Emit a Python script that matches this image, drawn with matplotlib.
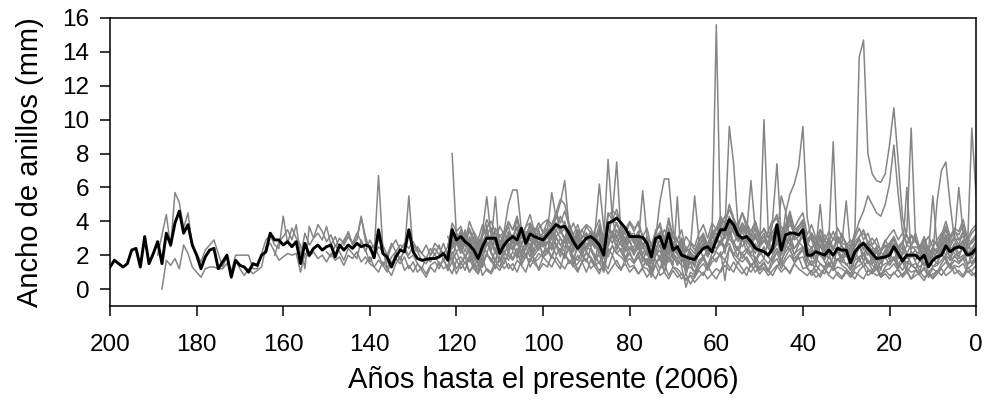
import numpy as np
import matplotlib
matplotlib.use("Agg")
import matplotlib.pyplot as plt

plt.rcParams['font.family'] = ['Liberation Sans', 'DejaVu Sans']

# Mean ring-width chronology, years before present 200 -> 0
mean_width = [
    1.3, 1.7, 1.5, 1.3, 1.5, 2.3, 2.4, 1.3, 3.1, 1.5,
    2.1, 2.8, 1.5, 3.3, 2.6, 3.9, 4.6, 3.3, 3.8, 2.6,
    2.0, 1.2, 1.9, 2.3, 2.4, 1.2, 1.6, 2.0, 0.7, 1.7,
    1.4, 1.3, 1.0, 1.5, 1.4, 2.0, 2.2, 3.3, 2.9, 2.9,
    2.6, 2.8, 2.5, 2.8, 1.5, 2.7, 2.0, 2.4, 2.6,
    2.3, 2.5, 2.6, 1.9, 2.6, 2.3, 2.6, 2.4, 2.7, 2.5,
    2.6, 2.5, 1.85, 3.5, 2.1, 1.9, 1.3, 1.9, 2.3, 2.2,
    3.5, 2.2, 1.8, 1.7, 1.75, 1.8, 1.8, 1.9, 2.1, 1.7,
    3.5, 2.9, 3.1, 2.8, 2.6, 2.3, 1.8, 2.5, 3.0, 3.0,
    3.0, 2.1, 2.6, 2.9, 3.1, 2.9, 3.6, 2.7, 3.25, 3.1, 3.0,
    2.9, 3.2, 3.5, 3.8, 3.65, 3.7, 3.3, 2.8, 2.4, 2.7,
    3.0, 3.1, 2.9, 2.6, 2.0, 3.9, 4.0, 4.2, 3.9, 3.6,
    3.1, 3.1, 3.1, 3.05, 2.7, 1.9, 3.0, 3.1, 2.4, 3.3,
    2.3, 2.5, 2.0, 1.9, 1.8, 1.75, 2.1, 2.4, 2.5, 2.2,
    2.9, 3.5, 3.5, 4.1, 3.8, 3.2, 3.0, 3.1, 2.8, 2.4,
    2.3, 2.2, 2.0, 2.4, 3.8, 2.3, 3.2, 3.3, 3.3, 3.2,
    3.5, 2.0, 2.0, 2.2, 2.1, 2.0, 2.3, 2.0, 2.4, 2.3,
    2.3, 1.55, 2.2, 2.5, 2.7, 2.4, 2.1, 1.8, 1.85, 1.9,
    2.0, 2.5, 2.1, 1.65, 2.0, 2.0, 2.0, 1.75, 2.0, 1.3,
    1.7, 1.9, 2.0, 2.55, 2.2, 2.4, 2.5, 2.4, 2.0, 2.1, 2.4,
]

# Individual tree series; each runs from its first year down to 0
tree_starts = [189, 188, 162, 150, 146, 141,
               121, 122, 121, 122, 122, 121, 121, 120, 122, 121, 122, 121]

tree_01 = [2.0, 3.2, 4.4, 2.5, 5.7, 5.1, 3.6, 4.5, 2.5, 2.1,
           1.6, 2.3, 2.6, 2.9, 2.1, 1.3, 1.9, 1.0, 2.0, 2.0,
           2.0, 2.0, 1.2, 1.2, 2.1, 2.9, 3.2, 2.6, 2.4, 4.3,
           2.7, 3.6, 3.0, 2.6, 1.2, 3.7, 3.0, 3.3, 2.9, 3.7,
           2.6, 3.1, 2.4, 2.9, 3.3, 2.7, 3.0, 4.3, 2.8, 2.4,
           1.9, 2.5, 2.2, 1.6, 1.3, 2.2, 2.6, 2.4, 2.0, 2.6,
           2.2, 1.7, 1.5, 2.0, 2.4, 2.0, 2.7, 1.9, 3.6, 3.0,
           3.3, 2.6, 2.9, 2.2, 1.5, 2.8, 3.2, 3.6, 3.0, 2.2,
           2.8, 3.3, 3.1, 3.7, 2.6, 3.4, 3.2, 2.8, 3.0, 3.3,
           3.5, 3.2, 3.9, 3.4, 4.0, 3.1, 2.6, 2.4, 3.0, 3.3,
           3.0, 2.5, 2.8, 1.8, 3.6, 4.0, 3.9, 3.3, 3.0, 3.4,
           2.9, 3.2, 2.6, 2.4, 1.6, 2.8, 3.2, 2.1, 3.4, 2.5,
           2.3, 2.0, 1.7, 1.9, 1.6, 2.4, 2.6, 2.0, 2.8, 3.0,
           3.6, 3.3, 4.0, 3.4, 3.1, 2.9, 3.2, 2.7, 2.5, 2.1,
           2.4, 2.0, 2.6, 3.1, 2.3, 3.0, 3.4, 2.9, 3.1, 3.3,
           2.2, 1.9, 2.3, 2.0, 1.8, 2.5, 1.9, 2.4, 2.2, 2.1,
           1.6, 2.3, 2.6, 2.8, 2.3, 2.0, 1.7, 1.9, 2.0, 2.2,
           2.6, 2.0, 1.6, 2.1, 1.9, 2.0, 1.8, 2.1, 1.4, 1.7,
           1.9, 2.2, 2.6, 2.3, 2.5, 2.4, 2.6, 2.1, 2.2, 2.5]

tree_02 = [0.0, 1.7, 1.4, 1.8, 1.2, 2.6, 2.1, 1.3, 1.0,
           0.7, 1.2, 1.3, 1.3, 1.2, 1.2, 1.5, 1.1, 1.7, 1.2,
           0.8, 1.2, 0.9, 1.1, 1.3, 2.5, 2.7, 2.2, 1.7, 1.9,
           2.1, 2.0, 2.1, 1.0, 2.1, 1.9, 2.2, 1.8, 2.0, 1.6,
           2.1, 1.7, 1.9, 1.4, 2.0, 1.8, 2.2, 1.6, 1.9, 1.5,
           1.3, 1.7, 1.4, 1.0, 1.6, 1.8, 1.5, 1.9, 1.2, 1.6,
           1.0, 1.3, 0.9, 1.4, 1.6, 1.2, 1.8, 1.1, 2.2, 1.7,
           1.9, 1.5, 1.8, 1.2, 0.9, 1.6, 2.0, 1.8, 1.4, 1.1,
           1.6, 2.0, 1.7, 2.2, 1.5, 1.9, 2.3, 1.6, 1.8, 2.1,
           2.4, 1.9, 2.6, 2.2, 2.0, 1.7, 1.3, 1.5, 1.9, 2.1,
           1.8, 1.4, 1.6, 1.0, 2.2, 2.5, 2.1, 1.9, 1.6, 1.8,
           1.5, 1.9, 1.3, 1.2, 0.8, 1.5, 1.8, 1.0, 1.9, 1.3,
           1.2, 0.9, 0.6, 0.8, 0.7, 1.2, 1.5, 1.1, 1.6, 1.8,
           2.0, 1.7, 2.4, 2.1, 1.8, 1.6, 1.9, 1.4, 1.5, 1.1,
           1.3, 1.0, 1.5, 1.8, 1.2, 1.7, 2.0, 1.6, 1.8, 1.9,
           1.2, 1.0, 1.4, 1.1, 0.9, 1.5, 1.1, 1.3, 1.2, 1.0,
           0.7, 1.2, 1.4, 1.6, 1.2, 1.0, 0.8, 0.9, 1.1, 1.2,
           1.5, 1.1, 0.8, 1.2, 1.0, 1.1, 0.9, 1.2, 0.7, 0.9,
           1.0, 1.3, 1.6, 1.2, 1.4, 1.3, 1.5, 1.0, 1.1, 1.4]

tree_03 = [2.0, 2.8, 3.1,
           3.5, 2.9, 3.8, 1.9, 3.3, 2.6, 3.0, 3.8, 3.4, 2.8,
           3.2, 2.5, 3.0, 2.7, 3.4, 2.6, 2.9, 4.2, 3.1, 2.3,
           2.6, 2.0, 1.4, 1.8, 2.5, 2.9, 2.3, 2.7, 2.4, 2.8,
           2.3, 2.1, 2.6, 2.0, 2.7, 2.4, 2.1, 2.5, 3.9, 3.4,
           3.7, 2.9, 3.4, 2.8, 2.0, 3.1, 3.6, 4.0, 3.3, 2.6,
           3.2, 3.9, 3.5, 4.1, 3.0, 3.7, 3.9, 3.3, 3.6, 3.9,
           4.1, 3.8, 4.5, 3.9, 4.6, 3.7, 3.1, 2.9, 3.5, 3.8,
           3.6, 3.0, 3.2, 2.3, 4.3, 4.6, 4.4, 3.9, 3.5, 4.0,
           3.6, 3.8, 3.1, 2.9, 2.1, 3.5, 3.7, 2.8, 4.0, 3.0,
           2.8, 2.5, 2.2, 2.4, 2.1, 2.9, 3.1, 2.6, 3.3, 3.6,
           4.2, 3.9, 4.7, 4.1, 3.6, 3.4, 3.8, 3.2, 3.0, 2.7,
           2.9, 2.5, 3.1, 3.7, 2.8, 3.5, 4.0, 3.5, 3.7, 3.9,
           2.7, 2.4, 2.8, 2.5, 2.3, 3.0, 2.4, 2.9, 2.7, 2.6,
           2.0, 2.8, 3.1, 3.3, 2.8, 2.5, 2.2, 2.3, 2.5, 2.7,
           3.1, 2.5, 2.0, 2.6, 2.4, 2.5, 2.3, 2.6, 1.8, 2.2,
           2.4, 2.7, 3.1, 2.8, 3.0, 2.9, 3.1, 2.6, 2.7, 3.0]

tree_04 = [2.2,
           1.9, 2.6, 2.2, 1.7, 2.4, 2.1, 1.8, 2.9, 2.3, 1.6,
           2.1, 6.7, 2.4, 1.2, 1.9, 2.2, 1.7, 2.3, 1.8, 2.0,
           1.5, 1.2, 1.9, 1.6, 2.1, 1.4, 1.7, 1.3, 2.8, 2.2,
           2.5, 1.9, 2.3, 1.5, 1.1, 2.0, 2.6, 2.9, 2.2, 1.6,
           2.1, 2.6, 2.3, 2.8, 1.9, 2.5, 2.7, 2.0, 2.4, 2.6,
           2.8, 2.4, 3.0, 2.6, 2.9, 2.3, 1.9, 1.7, 2.2, 2.5,
           2.3, 1.8, 2.0, 1.3, 2.9, 3.2, 3.0, 2.6, 2.2, 2.5,
           2.1, 2.4, 1.9, 1.7, 1.1, 2.0, 2.3, 1.5, 2.5, 1.8,
           1.7, 1.4, 1.2, 1.3, 1.0, 1.7, 1.9, 1.4, 2.1, 2.3,
           2.7, 2.4, 3.0, 2.6, 2.3, 2.1, 2.4, 2.0, 1.9, 1.5,
           1.8, 1.5, 2.0, 2.4, 1.7, 2.2, 2.6, 2.1, 2.3, 2.5,
           1.6, 1.4, 1.8, 1.5, 1.3, 1.9, 1.5, 1.8, 1.6, 1.5,
           1.1, 1.7, 1.9, 2.1, 1.7, 1.4, 1.2, 1.3, 1.5, 1.6,
           1.9, 1.5, 1.1, 1.6, 1.4, 1.5, 1.3, 1.6, 1.0, 1.3,
           1.4, 1.7, 2.0, 1.7, 1.9, 1.8, 2.0, 1.5, 1.6, 1.9]

tree_05 = [2.6, 3.1, 2.7, 3.3, 2.8, 2.2, 2.9,
           2.4, 2.9, 2.6, 2.0, 2.7, 2.2, 1.8, 2.3, 5.5, 2.1,
           2.5, 2.1, 1.8, 2.4, 2.0, 2.6, 1.7, 2.2, 2.8, 3.3,
           2.6, 3.1, 2.4, 2.8, 2.2, 2.7, 2.1, 2.9, 3.4, 2.5,
           2.9, 2.4, 3.2, 2.8, 3.5, 2.6, 3.0, 2.7, 3.3, 2.8,
           3.0, 3.6, 3.1, 3.4, 2.9, 3.5, 2.7, 3.2, 2.8, 2.4,
           3.2, 2.7, 2.3, 3.0, 2.6, 3.4, 3.0, 3.6, 2.8, 3.3,
           2.8, 2.4, 3.1, 2.6, 2.2, 2.9, 2.5, 3.0, 2.3, 2.7,
           2.3, 1.9, 2.5, 2.1, 1.6, 2.3, 2.7, 2.0, 2.6, 3.0,
           2.7, 3.3, 3.0, 3.7, 2.9, 3.4, 2.8, 2.5, 3.1, 2.6,
           2.9, 2.4, 2.1, 2.7, 2.3, 3.0, 2.6, 3.2, 2.8, 2.5,
           2.2, 1.8, 2.4, 2.0, 1.7, 2.3, 1.9, 2.2, 1.6, 2.1,
           1.8, 2.3, 1.6, 2.1, 2.5, 1.9, 1.5, 2.2, 1.8, 2.1,
           1.7, 2.2, 1.9, 1.5, 2.0, 2.3, 1.8, 1.4, 1.9, 2.2,
           1.8, 2.4, 2.0, 2.5, 2.1, 1.9, 2.6, 2.2, 1.8, 2.3]

tree_06 = [1.5, 1.9,
           1.3, 1.0, 1.6, 1.2, 0.8, 1.5, 1.9, 1.1, 1.4, 1.0,
           1.5, 1.1, 0.7, 1.3, 1.0, 1.6, 1.2, 1.4, 0.9, 1.7,
           1.2, 1.6, 1.0, 1.5, 1.3, 1.8, 1.1, 0.9, 1.4, 1.7,
           1.2, 1.5, 1.1, 1.7, 1.4, 1.0, 1.8, 1.5, 1.2, 1.9,
           1.6, 1.3, 1.9, 1.5, 1.2, 1.7, 1.4, 1.0, 1.6, 1.8,
           1.2, 1.5, 1.1, 1.4, 0.9, 1.3, 1.7, 1.2, 1.5, 1.0,
           1.3, 0.9, 1.2, 0.7, 1.1, 1.4, 0.8, 1.0, 0.6, 1.1,
           0.7, 0.9, 0.5, 0.8, 0.4, 0.7, 1.0, 0.6, 0.9, 1.2,
           1.0, 1.4, 1.1, 1.6, 1.2, 0.9, 1.3, 1.0, 1.4, 0.9,
           1.2, 0.8, 1.1, 1.4, 1.0, 1.3, 0.9, 1.5, 1.2, 1.0,
           0.8, 1.1, 0.7, 0.9, 1.2, 0.8, 0.6, 1.0, 0.7, 1.1,
           0.7, 1.0, 0.8, 0.6, 1.1, 0.9, 1.2, 0.7, 0.9, 0.6,
           1.0, 0.7, 0.9, 1.1, 0.6, 0.8, 1.0, 0.7, 0.9, 0.6,
           0.9, 1.2, 0.8, 1.0, 1.3, 0.9, 0.7, 1.1, 0.8, 1.0]

tree_07 = [8.0, 3.1,
           2.4, 3.5, 2.0, 1.6, 2.9, 1.3, 3.8, 2.2, 1.7, 2.6,
           3.4, 2.1, 2.9, 1.8, 3.3, 2.5, 1.9, 3.6, 2.4, 2.8,
           2.2, 3.4, 2.6, 1.9, 3.1, 2.3, 1.5, 2.8, 2.0, 3.3,
           2.5, 1.7, 3.0, 1.2, 2.6, 3.4, 2.3, 2.9, 1.8, 2.5,
           2.0, 2.8, 1.6, 2.4, 0.9, 2.2, 3.0, 1.4, 2.7, 1.9,
           1.5, 2.2, 0.8, 1.9, 1.3, 2.6, 1.8, 2.4, 3.0, 15.6,
           3.2, 2.1, 3.8, 2.5, 1.9, 3.0, 2.2, 2.7, 1.6, 2.3,
           1.8, 2.9, 2.1, 3.3, 1.6, 2.4, 3.1, 2.0, 2.6, 3.5,
           1.7, 2.3, 1.4, 2.6, 1.9, 2.1, 1.3, 2.5, 1.8, 2.2,
           1.2, 2.0, 2.7, 1.6, 2.4, 1.5, 1.9, 1.1, 2.3, 1.7,
           2.5, 1.4, 1.9, 1.2, 2.2, 1.6, 1.0, 2.0, 1.3, 1.8,
           1.5, 2.1, 2.8, 1.7, 2.4, 1.9, 2.6, 1.4, 2.0, 2.3]

tree_08 = [2.6, 3.3, 2.8,
           3.0, 2.5, 3.6, 2.9, 2.2, 3.4, 5.45, 3.1, 2.6, 2.3,
           3.1, 3.7, 2.8, 4.2, 3.3, 2.7, 3.9, 3.2, 2.5, 3.4,
           3.6, 2.9, 4.4, 3.5, 3.0, 3.8, 2.6, 3.3, 2.4, 3.1,
           2.8, 3.5, 4.1, 2.9, 7.65, 4.2, 3.0, 3.6, 2.7, 3.2,
           2.9, 3.4, 2.5, 3.1, 1.8, 2.7, 3.3, 2.2, 3.5, 2.6,
           2.4, 2.9, 1.6, 2.2, 1.9, 2.8, 3.2, 2.5, 3.4, 3.0,
           4.1, 3.5, 9.6, 7.4, 3.8, 4.5, 3.6, 3.1, 4.0, 2.9,
           3.3, 2.6, 3.9, 4.2, 3.0, 3.6, 4.4, 3.2, 3.7, 4.1,
           2.8, 3.2, 2.5, 3.5, 2.9, 2.4, 3.0, 2.7, 3.3, 2.6,
           2.3, 3.4, 13.7, 14.7, 8.0, 6.8, 6.4, 6.3, 6.8, 8.5,
           10.7, 7.6, 4.2, 3.1, 2.6, 3.3, 2.4, 2.9, 2.0, 2.5,
           2.2, 2.8, 3.5, 2.7, 3.1, 2.6, 3.4, 2.3, 2.9, 3.2]

tree_09 = [3.6, 2.7,
           2.1, 3.0, 2.4, 1.8, 2.7, 2.2, 3.2, 2.8, 5.45, 2.0,
           2.6, 3.3, 2.4, 3.0, 2.2, 2.8, 3.5, 2.7, 2.3, 3.1,
           3.4, 5.7, 4.2, 5.1, 6.4, 3.6, 2.9, 3.5, 2.4, 3.0,
           2.7, 3.3, 2.2, 2.6, 3.8, 3.1, 2.5, 3.4, 2.8, 2.3,
           2.5, 3.1, 2.0, 2.7, 1.5, 2.4, 2.9, 1.9, 3.2, 2.3,
           2.1, 2.6, 1.3, 1.9, 1.7, 2.5, 2.9, 2.2, 3.1, 2.7,
           3.4, 3.0, 3.9, 3.3, 2.8, 3.6, 3.1, 2.6, 3.2, 2.4,
           10.0, 3.4, 2.9, 3.6, 2.5, 4.5, 5.6, 6.2, 7.2, 9.6,
           4.2, 2.9, 2.2, 2.6, 2.0, 2.8, 2.3, 3.0, 2.5, 2.1,
           1.8, 2.5, 2.9, 2.3, 2.7, 2.0, 2.4, 1.7, 2.2, 2.6,
           2.9, 2.3, 2.7, 3.4, 9.5, 3.0, 2.1, 2.5, 1.6, 2.2,
           1.9, 2.4, 3.0, 2.2, 2.7, 2.5, 2.9, 2.0, 2.4, 2.8]

tree_10 = [2.2, 1.7, 2.9,
           2.4, 1.9, 2.6, 2.0, 1.4, 2.3, 2.8, 2.1, 1.6, 2.5,
           2.0, 2.7, 2.3, 2.9, 1.8, 2.4, 3.0, 2.2, 2.6, 2.1,
           2.8, 2.3, 3.1, 2.6, 2.2, 2.9, 1.8, 2.4, 1.9, 2.7,
           2.5, 3.4, 6.2, 3.6, 2.9, 4.4, 7.5, 3.2, 2.6, 2.8,
           2.2, 2.7, 1.7, 2.3, 1.2, 2.0, 2.6, 1.6, 2.8, 2.1,
           1.8, 2.3, 1.0, 1.6, 1.4, 2.2, 2.7, 1.9, 2.6, 2.4,
           2.9, 2.5, 3.3, 2.8, 2.3, 3.1, 2.6, 2.1, 2.7, 2.0,
           2.3, 1.9, 2.6, 3.0, 2.1, 2.7, 3.2, 2.4, 2.8, 3.1,
           2.0, 2.5, 1.8, 3.1, 2.4, 3.0, 8.7, 2.2, 1.9, 2.6,
           1.6, 2.2, 2.6, 2.0, 2.5, 1.8, 2.2, 1.5, 2.0, 2.4,
           2.7, 2.1, 2.5, 1.8, 2.2, 2.0, 1.7, 2.3, 1.5, 2.0,
           5.2, 7.0, 7.5, 5.0, 2.9, 2.4, 2.8, 2.0, 2.3, 2.7]

tree_11 = [1.9, 2.5, 3.3,
           2.8, 2.2, 3.1, 2.5, 1.9, 2.6, 3.3, 2.7, 2.1, 2.9,
           2.4, 3.1, 2.7, 3.3, 2.1, 2.8, 3.4, 2.6, 3.0, 2.5,
           3.2, 2.6, 3.5, 3.0, 2.7, 3.3, 2.3, 2.9, 2.2, 3.1,
           2.8, 2.4, 3.6, 2.1, 3.2, 2.7, 3.5, 2.9, 2.4, 3.1,
           2.7, 3.3, 2.4, 2.9, 2.2, 3.0, 5.2, 6.5, 6.5, 3.6,
           2.3, 2.8, 1.5, 2.1, 1.8, 2.6, 3.0, 2.3, 3.2, 2.9,
           3.6, 3.1, 4.0, 3.4, 2.9, 3.7, 3.2, 2.7, 3.3, 2.5,
           2.8, 3.4, 4.1, 7.4, 3.1, 3.6, 4.3, 3.0, 3.5, 3.8,
           2.6, 3.1, 2.4, 2.9, 2.2, 2.7, 2.3, 3.0, 2.5, 2.2,
           1.9, 2.6, 3.0, 2.4, 2.8, 2.1, 2.5, 1.8, 2.3, 2.7,
           3.0, 2.4, 2.8, 2.1, 2.6, 2.3, 1.9, 2.5, 1.7, 2.4,
           2.1, 2.6, 3.2, 2.5, 3.0, 6.0, 3.3, 2.4, 9.5, 5.5]

tree_12 = [3.1, 2.6,
           3.5, 3.0, 2.7, 3.4, 2.9, 3.8, 3.2, 2.8, 3.6, 3.1,
           3.4, 5.0, 5.85, 5.85, 3.5, 3.1, 3.8, 3.3, 3.9, 3.4,
           3.2, 3.8, 3.4, 4.3, 3.7, 3.3, 3.9, 3.2, 3.5, 2.9,
           3.4, 2.9, 3.5, 3.0, 3.7, 3.3, 3.9, 3.1, 3.5, 3.2,
           3.3, 2.8, 5.8, 3.1, 2.6, 3.4, 2.9, 3.5, 3.0, 3.4,
           2.9, 2.4, 3.1, 2.7, 2.3, 2.8, 3.2, 2.6, 3.1, 3.5,
           3.8, 4.3, 3.7, 4.1, 3.4, 3.9, 3.3, 6.4, 3.5, 3.1,
           3.6, 3.1, 3.4, 3.0, 3.7, 3.3, 3.8, 3.4, 3.1, 3.7,
           2.8, 3.3, 2.9, 2.5, 3.2, 2.8, 3.4, 2.7, 3.1, 2.6,
           2.9, 2.5, 3.1, 3.5, 2.7, 3.0, 2.6, 2.3, 2.9, 2.4,
           3.0, 2.5, 2.8, 3.2, 2.6, 2.9, 2.4, 2.7, 3.1, 2.5,
           2.9, 3.3, 2.8, 3.1, 3.5, 2.9, 3.4, 3.0, 2.7, 3.2]

tree_13 = [1.8, 1.2,
           1.6, 1.1, 2.0, 1.4, 0.9, 1.5, 2.1, 1.7, 1.2, 1.9,
           1.5, 2.2, 1.8, 2.4, 1.4, 2.0, 2.6, 1.7, 2.1, 1.9,
           2.3, 1.8, 2.7, 2.2, 1.9, 2.5, 1.4, 2.0, 1.6, 2.2,
           1.9, 1.5, 2.3, 1.1, 2.4, 2.0, 2.7, 2.2, 1.7, 2.1,
           1.6, 2.1, 1.3, 1.8, 0.7, 1.5, 2.0, 1.0, 2.2, 1.4,
           5.45, 1.3, 0.1, 1.0, 0.8, 1.4, 1.8, 1.2, 1.9, 1.6,
           2.2, 0.5, 2.5, 1.9, 1.5, 2.1, 1.7, 1.3, 1.8, 1.2,
           1.5, 1.1, 1.8, 2.2, 1.4, 1.9, 2.4, 1.6, 2.0, 2.3,
           1.3, 1.7, 1.0, 1.5, 1.2, 1.6, 1.1, 1.8, 1.4, 1.2,
           0.9, 1.4, 1.8, 1.3, 1.7, 1.1, 1.5, 0.8, 1.3, 1.6,
           1.8, 1.2, 1.6, 1.0, 1.4, 1.2, 0.9, 1.3, 0.8, 1.2,
           1.0, 1.5, 1.9, 1.3, 1.7, 1.5, 1.8, 1.2, 1.4, 1.7]

tree_14 = [2.9,
           3.4, 2.8, 4.0, 3.3, 2.6, 3.2, 4.1, 3.5, 2.9, 3.7,
           3.2, 4.0, 3.5, 4.3, 3.0, 3.7, 4.4, 3.4, 3.9, 3.3,
           4.0, 3.5, 4.5, 5.3, 5.0, 3.9, 3.2, 3.8, 3.0, 3.7,
           3.3, 2.9, 3.8, 2.7, 4.5, 4.1, 4.7, 3.8, 3.2, 3.9,
           3.4, 4.0, 3.1, 3.6, 2.5, 3.3, 3.9, 2.9, 4.2, 3.1,
           2.9, 3.5, 2.2, 2.8, 2.5, 3.3, 3.8, 3.0, 3.9, 3.5,
           4.3, 3.8, 5.0, 4.2, 3.6, 4.5, 3.9, 3.4, 4.0, 3.2,
           3.5, 3.0, 3.9, 4.4, 3.3, 3.8, 4.6, 3.6, 4.1, 4.5,
           3.2, 3.8, 3.0, 3.5, 2.8, 3.4, 2.9, 3.6, 3.1, 2.7,
           2.5, 3.2, 4.0, 4.6, 5.5, 5.0, 4.5, 4.3, 5.0, 6.2,
           8.5, 5.6, 3.4, 2.7, 3.2, 2.9, 2.5, 3.1, 2.3, 2.9,
           2.6, 3.2, 4.0, 3.1, 3.6, 3.4, 4.1, 3.0, 3.5, 3.8]

tree_15 = [1.1, 1.6, 0.9,
           1.5, 1.9, 1.0, 1.4, 1.8, 0.8, 1.2, 1.0, 1.7, 1.3,
           1.9, 1.2, 1.5, 1.0, 1.7, 2.1, 1.3, 1.8, 1.1, 1.5,
           1.3, 2.0, 1.6, 1.2, 2.2, 1.5, 1.9, 1.1, 1.6, 1.0,
           1.7, 1.3, 0.9, 1.6, 1.2, 2.0, 1.4, 1.1, 1.8, 1.3,
           1.4, 0.9, 1.3, 1.7, 1.0, 0.6, 1.2, 1.5, 0.8, 1.3,
           1.0, 0.6, 0.9, 0.3, 0.7, 1.1, 0.8, 1.4, 0.9, 0.6,
           1.1, 1.7, 1.3, 1.0, 1.6, 1.2, 0.8, 1.5, 1.0, 1.3,
           1.6, 1.1, 0.8, 1.3, 1.7, 1.2, 1.0, 1.5, 1.9, 1.2,
           1.3, 0.8, 1.1, 0.7, 1.2, 0.9, 1.4, 0.8, 0.6, 1.0,
           0.9, 0.6, 1.1, 1.4, 0.8, 1.0, 1.3, 0.7, 1.1, 0.8,
           0.9, 1.2, 0.7, 1.0, 0.6, 1.1, 0.8, 0.5, 1.0, 0.7,
           1.1, 0.8, 1.2, 1.5, 0.9, 1.1, 0.8, 1.3, 1.0, 0.7]

tree_16 = [2.4, 2.9,
           2.2, 2.8, 2.5, 3.1, 2.3, 2.0, 2.7, 2.3, 3.0, 2.4,
           2.8, 2.2, 3.0, 2.6, 3.4, 2.7, 2.3, 3.0, 3.5, 2.5,
           2.7, 3.3, 2.5, 3.0, 2.4, 3.2, 2.8, 3.5, 2.6, 2.2,
           3.0, 2.6, 2.1, 2.9, 2.5, 3.2, 2.8, 3.1, 2.3, 2.9,
           2.2, 2.9, 2.5, 2.0, 2.7, 2.3, 1.7, 2.6, 2.1, 2.8,
           2.0, 2.5, 1.7, 2.2, 1.4, 2.1, 2.7, 1.9, 2.4, 2.9,
           2.6, 3.1, 3.4, 2.7, 3.2, 2.5, 2.9, 2.6, 2.1, 2.8,
           3.1, 2.5, 2.2, 2.9, 5.5, 4.6, 2.8, 2.4, 2.7, 3.1,
           2.5, 2.0, 2.4, 5.0, 2.2, 1.8, 2.5, 2.3, 2.6, 1.9,
           2.3, 1.8, 2.5, 2.7, 2.0, 2.4, 1.7, 2.2, 2.6, 1.9,
           2.4, 1.8, 2.2, 6.0, 2.1, 1.7, 2.3, 1.9, 2.5, 1.8,
           2.2, 2.8, 2.3, 1.9, 2.6, 2.1, 2.5, 3.0, 2.0, 2.4]

tree_17 = [3.1, 2.4, 3.0,
           2.7, 3.3, 2.5, 2.1, 3.0, 2.6, 3.4, 2.8, 2.3, 3.2,
           2.7, 3.4, 3.0, 3.6, 2.6, 3.1, 3.7, 2.9, 3.3, 2.8,
           3.5, 3.0, 3.9, 3.3, 3.6, 2.9, 2.4, 3.1, 2.5, 3.3,
           3.0, 2.6, 3.4, 2.0, 3.6, 3.2, 3.9, 3.3, 2.8, 3.4,
           2.8, 3.4, 2.6, 3.0, 1.9, 2.9, 3.4, 2.3, 3.6, 2.7,
           2.5, 3.0, 1.8, 2.4, 5.5, 2.9, 3.3, 2.6, 3.5, 3.2,
           3.8, 3.3, 4.3, 3.6, 3.2, 3.9, 3.5, 2.9, 3.6, 2.8,
           3.1, 2.6, 3.4, 3.8, 2.9, 3.5, 4.1, 3.2, 3.7, 4.0,
           2.9, 3.3, 2.6, 3.2, 2.5, 3.0, 2.4, 3.1, 2.7, 5.2,
           2.3, 3.0, 3.6, 2.9, 3.3, 2.6, 3.0, 2.2, 2.8, 3.2,
           3.5, 2.9, 3.3, 2.6, 3.1, 2.8, 2.4, 3.0, 2.2, 5.5,
           2.5, 3.0, 3.7, 2.9, 3.4, 3.2, 3.8, 2.8, 3.3, 3.6]

tree_18 = [1.6, 2.2,
           1.5, 2.0, 1.6, 2.4, 1.9, 1.3, 2.1, 1.6, 2.3, 1.7,
           2.3, 1.7, 2.2, 1.9, 2.6, 2.0, 1.6, 2.4, 2.8, 1.9,
           2.1, 2.7, 2.0, 2.4, 1.8, 2.5, 2.2, 2.9, 2.0, 1.6,
           2.4, 2.0, 1.5, 2.3, 1.9, 2.6, 2.1, 2.4, 1.7, 2.2,
           1.6, 2.2, 1.9, 1.4, 2.1, 1.7, 1.2, 2.0, 1.6, 2.2,
           1.4, 1.8, 1.2, 1.6, 0.9, 1.5, 2.0, 1.3, 1.8, 2.2,
           1.9, 2.4, 2.7, 2.0, 2.5, 1.8, 2.2, 1.9, 1.5, 2.1,
           2.5, 1.9, 1.6, 2.2, 2.0, 2.6, 2.3, 1.8, 2.1, 2.4,
           1.9, 1.4, 1.8, 2.2, 1.6, 1.3, 1.9, 1.7, 2.0, 1.4,
           1.7, 1.3, 1.9, 2.0, 1.5, 1.8, 1.2, 1.6, 1.9, 1.4,
           1.8, 1.3, 1.6, 2.0, 1.5, 1.2, 1.7, 1.4, 1.9, 1.3,
           1.6, 2.1, 1.7, 1.4, 2.0, 1.6, 1.9, 2.3, 1.5, 1.8]

tree_series = [tree_01, tree_02, tree_03, tree_04, tree_05, tree_06,
               tree_07, tree_08, tree_09, tree_10, tree_11, tree_12,
               tree_13, tree_14, tree_15, tree_16, tree_17, tree_18]

fig = plt.figure(figsize=(9.85, 4.0), dpi=100)
ax = fig.add_axes([0.1117, 0.235, 0.8793, 0.72])

for start, values in zip(tree_starts, tree_series):
    years = np.arange(start, start - len(values), -1)
    ax.plot(years, values, color='#858585', linewidth=1.1, zorder=2)

mean_years = np.arange(200, 200 - len(mean_width), -1)
ax.plot(mean_years, mean_width, color='black', linewidth=2.1, zorder=3)

ax.set_xlim(200, 0)
ax.set_ylim(-1, 16)
ax.set_xticks(np.arange(200, -1, -20))
ax.set_yticks(np.arange(0, 17, 2))

for side in ['left', 'right', 'top', 'bottom']:
    ax.spines[side].set_linewidth(1.1)
ax.tick_params(axis='both', direction='out', length=7, width=1.1,
               labelsize=17.5, colors='black')
ax.tick_params(axis='x', pad=13)
ax.tick_params(axis='y', pad=8)

ax.set_xlabel('Años hasta el presente (2006)', fontsize=21, labelpad=7)
ax.set_ylabel('Ancho de anillos (mm)', fontsize=21, labelpad=13)

fig.savefig('out.png', dpi=100, facecolor='white')
